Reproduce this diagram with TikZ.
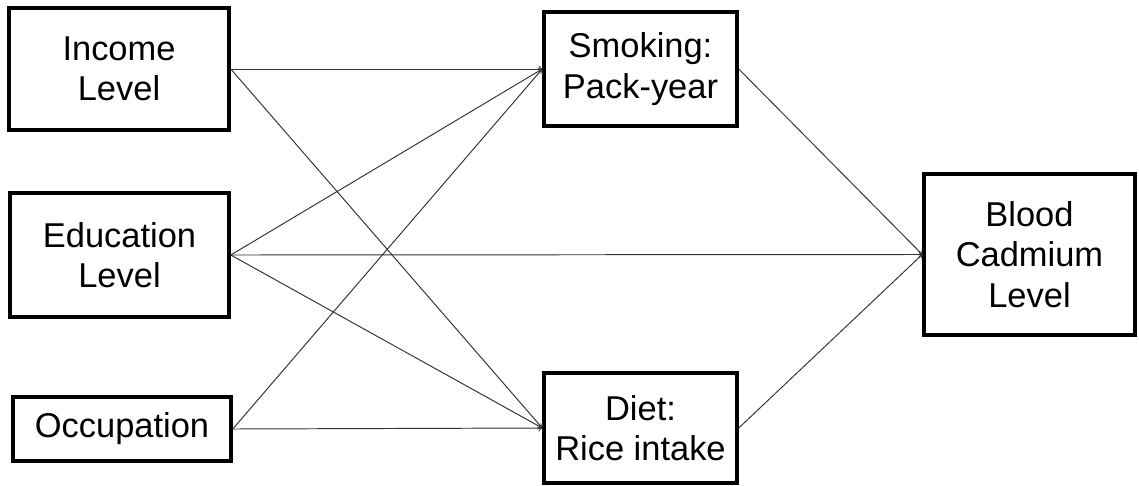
\documentclass[tikz,border=0pt]{standalone}
\usepackage{fontspec}
\setmainfont{Liberation Sans}
\usepackage{xcolor}
\usepackage{tikz}
\usetikzlibrary{shapes,positioning}
\tikzset{box/.style={rectangle,draw,line width=2pt,align=center,inner sep=0pt,font=\fontsize{19.6}{23}\selectfont}}
\tikzset{link/.style={->,draw=black!80,line width=0.55pt}}

\begin{document}
\begin{tikzpicture}[>=to]
    \useasboundingbox (0,0) rectangle (22.78,-9.7);
    \node[box,minimum width=4.4cm,minimum height=2.44cm] (inc) at (2.38,-1.38) {Income\\Level};
    \node[box,minimum width=4.38cm,minimum height=2.48cm] (edu) at (2.39,-5.1) {Education\\Level};
    \node[box,minimum width=4.36cm,minimum height=1.28cm] (occ) at (2.44,-8.58) {Occupation};
    \node[box,minimum width=3.86cm,minimum height=2.28cm] (smk) at (12.81,-1.38) {Smoking:\\Pack-year};
    \node[box,minimum width=3.86cm,minimum height=2.2cm] (diet) at (12.81,-8.56) {Diet:\\Rice intake};
    \node[box,minimum width=4.22cm,minimum height=3.22cm] (cad) at (20.59,-5.09) {Blood\\Cadmium\\Level};

    \draw [link] (inc.east) to (smk.west);
    \draw [link] (inc.east) to (diet.west);
    \draw [link] (edu.east) to (smk.west);
    \draw [link] (edu.east) to (cad.west);
    \draw [link] (edu.east) to (diet.west);
    \draw [link] (occ.east) to (smk.west);
    \draw [link] (occ.east) to (diet.west);
    \draw [link] (smk.east) to (cad.west);
    \draw [link] (diet.east) to (cad.west);
\end{tikzpicture}
\end{document}
